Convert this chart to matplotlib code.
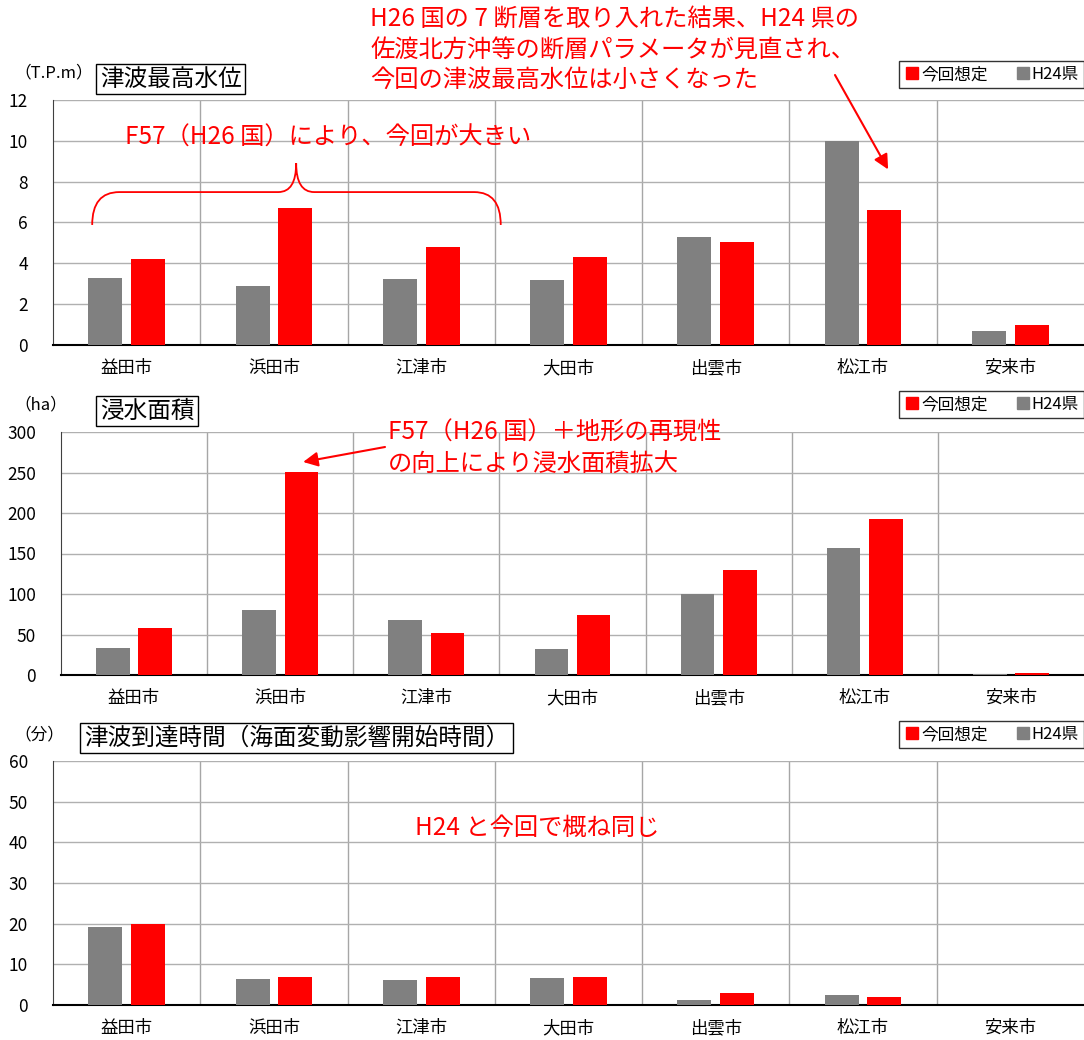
import numpy as np
import matplotlib.pyplot as plt
from matplotlib.path import Path
from matplotlib.patches import PathPatch
from matplotlib.lines import Line2D

plt.rcParams['font.family'] = ['Noto Sans CJK JP', 'DejaVu Sans']

cities = ['益田市', '浜田市', '江津市', '大田市', '出雲市', '松江市', '安来市']

# 津波最高水位 (T.P.m)
h24_height = [3.3, 2.9, 3.25, 3.2, 5.3, 10.0, 0.68]
new_height = [4.2, 6.72, 4.78, 4.32, 5.05, 6.62, 0.97]

# 浸水面積 (ha)
h24_area = [33, 80, 68, 32, 100, 157, 1]
new_area = [58, 251, 52, 74, 130, 193, 3]

# 津波到達時間 (分)
h24_time = [19.2, 6.5, 6.2, 6.7, 1.2, 2.5, 0]
new_time = [20.0, 6.9, 6.9, 6.9, 2.9, 1.9, 0]

GRAY = '#808080'
RED = '#ff0000'

fig = plt.figure(figsize=(10.84, 10.40), dpi=100)

def panel(rect, h24, new, ymax, ystep, title, unit, title_xy, unit_xy, legend_y):
    ax = fig.add_axes(rect)
    x = np.arange(len(cities))
    w = 0.23
    ax.bar(x - 0.145, h24, w, color=GRAY, zorder=3)
    ax.bar(x + 0.145, new, w, color=RED, zorder=3)
    ax.set_xlim(-0.5, len(cities) - 0.5)
    ax.set_ylim(0, ymax)
    ax.set_yticks(np.arange(0, ymax + 0.001, ystep))
    ax.set_xticks(x)
    ax.set_xticklabels(cities, fontsize=12.5)
    ax.tick_params(length=0, labelsize=12.5, pad=10)
    ax.tick_params(axis='y', pad=18)
    ax.yaxis.grid(True, color='#b0b0b0', lw=1, zorder=0)
    for b in np.arange(0.5, len(cities) - 0.5, 1):
        ax.axvline(b, color='#a6a6a6', lw=1, zorder=0)
    for s in ['top', 'right']:
        ax.spines[s].set_visible(False)
    ax.axhline(ymax, color='#606060', lw=1.2, zorder=1)
    ax.spines['left'].set_color('#404040')
    ax.spines['bottom'].set_linewidth(1.5)
    fig.text(title_xy[0], title_xy[1], title, fontsize=17, va='center', ha='left',
             bbox=dict(boxstyle='square,pad=0.15', fc='white', ec='black', lw=1))
    fig.text(unit_xy[0], unit_xy[1], unit, fontsize=12, va='center', ha='left')
    handles = [Line2D([], [], marker='s', ls='', color=RED, markersize=8),
               Line2D([], [], marker='s', ls='', color=GRAY, markersize=8)]
    fig.legend(handles, ['今回想定', 'H24県'], loc='upper right',
               bbox_to_anchor=(1.0, legend_y), ncol=2, fontsize=12,
               frameon=True, fancybox=False, edgecolor='black',
               handletextpad=0.05, columnspacing=1.6, handlelength=1.0,
               borderpad=0.3, borderaxespad=0)
    return ax

ax1 = panel([53/1084, 1-345/1040, 1-53/1084, 245/1040], h24_height, new_height, 12, 2,
            '津波最高水位', '（T.P.m）', (100/1084, 1-79/1040), (14/1084, 1-73/1040), 1-61/1040)
ax2 = panel([61/1084, 1-675/1040, 1-61/1084, 243/1040], h24_area, new_area, 300, 50,
            '浸水面積', '（ha）', (100/1084, 1-411/1040), (14/1084, 1-405/1040), 1-391/1040)
ax3 = panel([53/1084, 1-1005/1040, 1-53/1084, 244/1040], h24_time, new_time, 60, 10,
            '津波到達時間（海面変動影響開始時間）', '（分）', (84/1084, 1-738/1040), (14/1084, 1-735/1040), 1-721/1040)

# annotations panel 1
fig.text(370/1084, 1-6/1040,
         'H26 国の 7 断層を取り入れた結果、H24 県の\n佐渡北方沖等の断層パラメータが見直され、\n今回の津波最高水位は小さくなった',
         color=RED, fontsize=17.5, va='top', ha='left', linespacing=1.22)
ax1.annotate('', xy=(5.17, 8.6), xytext=(835/1084, 1-75/1040), textcoords='figure fraction',
             arrowprops=dict(arrowstyle='-|>', color=RED, lw=1.5, mutation_scale=22, shrinkA=0, shrinkB=0))
fig.text(125/1084, 1-138/1040, 'F57（H26 国）により、今回が大きい', color=RED, fontsize=17.5,
         va='center', ha='left')
verts = [(-0.234, 5.88), (-0.234, 7.49), (-0.05, 7.49),
         (1.03, 7.49),
         (1.151, 7.49), (1.151, 8.9),
         (1.151, 7.49), (1.273, 7.49),
         (2.36, 7.49),
         (2.54, 7.49), (2.54, 5.88)]
codes = [Path.MOVETO, Path.CURVE3, Path.CURVE3,
         Path.LINETO,
         Path.CURVE3, Path.CURVE3,
         Path.CURVE3, Path.CURVE3,
         Path.LINETO,
         Path.CURVE3, Path.CURVE3]
ax1.add_patch(PathPatch(Path(verts, codes), fc='none', ec=RED, lw=1.3, zorder=4, clip_on=False))

# annotations panel 2
fig.text(388/1084, 1-420/1040, 'F57（H26 国）＋地形の再現性\nの向上により浸水面積拡大', color=RED,
         fontsize=17.5, va='top', ha='left', linespacing=1.22)
ax2.annotate('', xy=(1.157, 263), xytext=(385/1084, 1-447/1040), textcoords='figure fraction',
             arrowprops=dict(arrowstyle='-|>', color=RED, lw=1.5, mutation_scale=22, shrinkA=0, shrinkB=0))

# annotation panel 3
fig.text(415/1084, 1-828/1040, 'H24 と今回で概ね同じ', color=RED, fontsize=17.5, va='center', ha='left')

fig.savefig('out.png', dpi=100)
